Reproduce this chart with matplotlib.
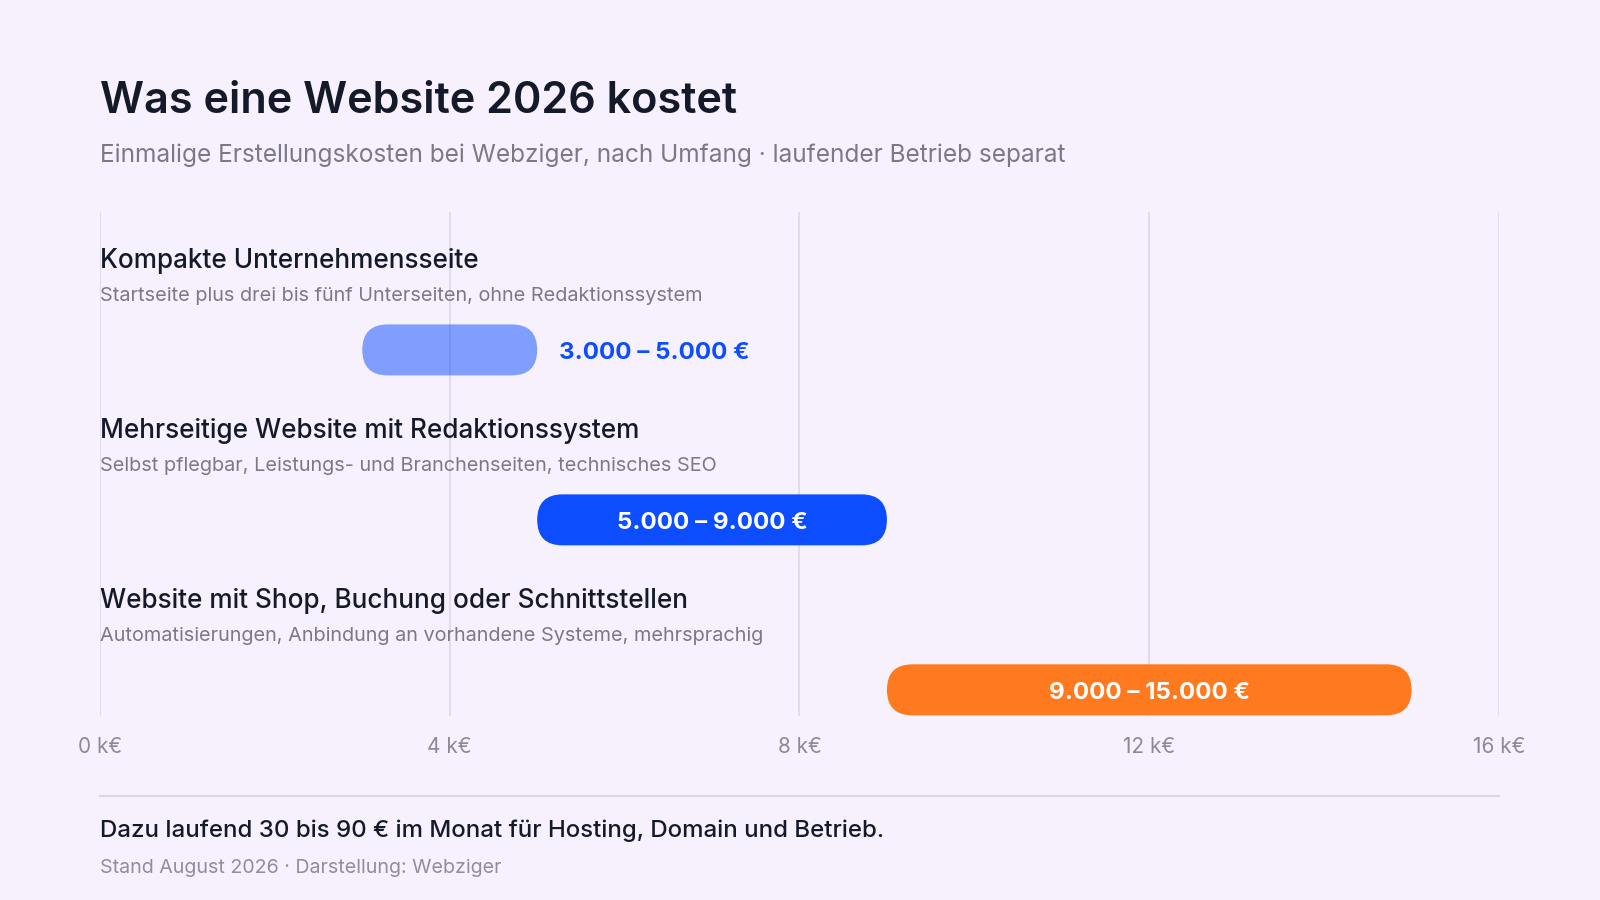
import matplotlib.pyplot as plt
from matplotlib.patches import FancyBboxPatch

plt.rcParams['font.family'] = ['Inter', 'DejaVu Sans']

# Daten
categories = ["Kompakte Unternehmensseite",
              "Mehrseitige Website mit Redaktionssystem",
              "Website mit Shop, Buchung oder Schnittstellen"]
descriptions = ["Startseite plus drei bis fünf Unterseiten, ohne Redaktionssystem",
                "Selbst pflegbar, Leistungs- und Branchenseiten, technisches SEO",
                "Automatisierungen, Anbindung an vorhandene Systeme, mehrsprachig"]
low = [3, 5, 9]      # k€
high = [5, 9, 15]    # k€
ticks = [0, 4, 8, 12, 16]

bg = '#F7F0FD'
dark = '#151A2B'
grey = '#7D7889'
bar_colors = ['#0B4DFF', '#0B4DFF', '#FF7A1F']
bar_alpha = [0.5, 1.0, 1.0]


def fmt(v):
    return f"{v * 1000:,.0f}".replace(",", ".")


fig = plt.figure(figsize=(16, 9), dpi=100, facecolor=bg)
W, H = 1568, 882  # Referenzgroesse fuer Layout

ax_l, ax_r = 98 / W, 1469 / W
ax_t, ax_b = 1 - 208 / H, 1 - 702 / H
ax = fig.add_axes([ax_l, ax_b, ax_r - ax_l, ax_t - ax_b])
ax.set_facecolor(bg)
ax.set_xlim(0, 16)
ymin, ymax = -0.81, 2.156
ax.set_ylim(ymax, ymin)
for s in ax.spines.values():
    s.set_visible(False)
ax.set_yticks([])
ax.set_xticks(ticks)
ax.set_xticklabels([f"{t} k€" for t in ticks], fontsize=14.9, color='#8E899A')
ax.tick_params(axis='x', length=0, pad=15)
for t in ticks:
    ax.axvline(t, color='#DCD5E3', lw=1.1, zorder=0)

# Pillenform: Radius in Datenkoordinaten
h = 0.30
px_k = (ax_r - ax_l) * 1600 / 16
px_row = (ax_t - ax_b) * 900 / (ymax - ymin)
r_x = (h / 2) * px_row / px_k

for i in range(len(categories)):
    lo, hi = low[i], high[i]
    ax.text(0, i - 0.48, categories[i], fontsize=18.8, fontweight='medium', color=dark,
            va='baseline', ha='left')
    ax.text(0, i - 0.288, descriptions[i], fontsize=14.3, color=grey, va='baseline', ha='left')
    p = FancyBboxPatch((lo, i - h / 2), hi - lo, h,
                       boxstyle=f"round,pad=0,rounding_size={r_x}",
                       mutation_aspect=(h / 2) / r_x,
                       fc=bar_colors[i], ec='none', alpha=bar_alpha[i], zorder=2)
    ax.add_patch(p)
    label = f"{fmt(lo)} – {fmt(hi)} €"
    if hi - lo < 3:
        ax.text(hi + 0.25, i + 0.02, label, fontsize=17.4, fontweight='bold', color='#0B4DFF',
                va='center', ha='left', zorder=3)
    else:
        ax.text((lo + hi) / 2, i + 0.02, label, fontsize=17.4, fontweight='bold', color='white',
                va='center', ha='center', zorder=3)

# Titel
fig.text(ax_l, 1 - 111 / H, "Was eine Website 2026 kostet", fontsize=31.1, color=dark,
         fontweight='semibold', va='baseline', ha='left')
fig.text(ax_l, 1 - 159 / H,
         "Einmalige Erstellungskosten bei Webziger, nach Umfang · laufender Betrieb separat",
         fontsize=17.6, color=grey, va='baseline', ha='left')

# Fusszeile
fig.add_artist(plt.Line2D([ax_l, ax_r], [1 - 780 / H, 1 - 780 / H],
                          transform=fig.transFigure, color='#DCD6E2', lw=1.5))
fig.text(ax_l, 1 - 820 / H, "Dazu laufend 30 bis 90 € im Monat für Hosting, Domain und Betrieb.",
         fontsize=17.3, fontweight='medium', color=dark, va='baseline', ha='left')
fig.text(ax_l, 1 - 856 / H, "Stand August 2026 · Darstellung: Webziger",
         fontsize=14.15, color='#928D9E', va='baseline', ha='left')

fig.savefig('out.png', dpi=100, facecolor=bg)
